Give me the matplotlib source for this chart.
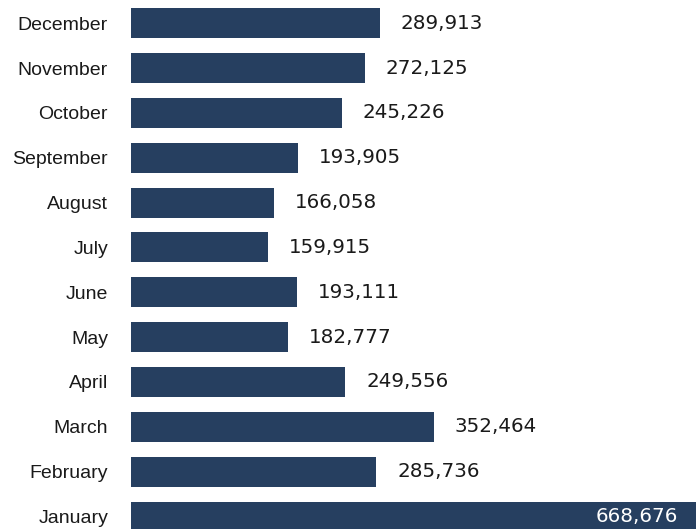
import matplotlib
matplotlib.use("Agg")
import matplotlib.pyplot as plt

months = ["January", "February", "March", "April", "May", "June",
          "July", "August", "September", "October", "November", "December"]
values = [668676, 285736, 352464, 249556, 182777, 193111,
          159915, 166058, 193905, 245226, 272125, 289913]

BAR_COLOR = "#263f60"
W, H, DPI = 696, 529, 100

fig = plt.figure(figsize=(W / DPI, H / DPI), dpi=DPI)
left_px = 131
ax = fig.add_axes([left_px / W, 0, 1 - left_px / W, 1])

px_per_unit = 0.000859
ax.set_xlim(0, (W - left_px) / px_per_unit)
spacing = 44.84
ax.set_ylim(-12.5 / spacing, 11 + 23.3 / spacing)

y = list(range(len(months)))
ax.barh(y, values, height=30 / spacing, color=BAR_COLOR, edgecolor="none")

ax.set_yticks(y)
ax.set_yticklabels(months, family="Liberation Sans", fontsize=14, color="#1a1a1a")
ax.tick_params(axis="y", length=0, pad=16.5)
ax.set_xticks([])
for s in ax.spines.values():
    s.set_visible(False)

xmax = ax.get_xlim()[1]
for i, v in enumerate(values):
    label = f"{v:,}"
    if v > xmax:
        ax.annotate(label, xy=(1, i), xycoords=("axes fraction", "data"),
                    xytext=(-13, 0), textcoords="offset points",
                    ha="right", va="center", fontsize=14.3,
                    family="DejaVu Sans", color="white")
    else:
        ax.annotate(label, xy=(v, i), xytext=(15, 0), textcoords="offset points",
                    ha="left", va="center", fontsize=14.3,
                    family="DejaVu Sans", color="#1a1a1a")

fig.savefig("out.png", dpi=DPI)
